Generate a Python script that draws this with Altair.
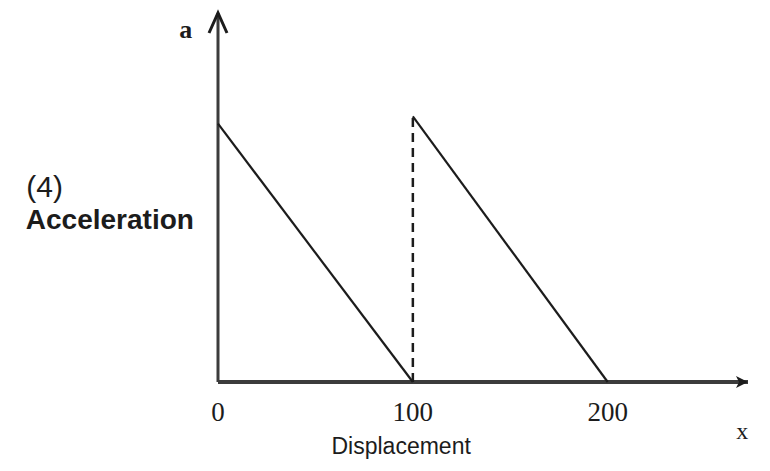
import altair as alt
import pandas as pd

# --- data ---
segment_ids = ["first", "first", "second", "second"]
seg_x = [0, 100, 100, 200]
seg_a = [7.0, 0.0, 7.2, 0.0]

dash_x = [100]
dash_a0 = [0.0]
dash_a1 = [7.2]

x_max = 272          # end of x axis (arrow tip)
a_max = 10           # end of a axis (arrow tip)

tick_values = [0, 100, 200]
tick_labels = ["0", "100", "200"]

X = alt.Scale(domain=[0, x_max], nice=False, zero=False)
Y = alt.Scale(domain=[0, a_max], nice=False, zero=False)

seg_df = pd.DataFrame({"seg": segment_ids, "x": seg_x, "a": seg_a})
dash_df = pd.DataFrame({"x": dash_x, "a0": dash_a0, "a1": dash_a1})
ticks_df = pd.DataFrame({"x": tick_values, "label": tick_labels, "a": [0] * len(tick_values)})

INK = "#1c1c1c"
AX = "#3c3c3c"

# axes lines
xaxis = alt.Chart(pd.DataFrame({"x0": [0], "x1": [x_max], "a": [0]})).mark_rule(
    color=AX, strokeWidth=4).encode(
    x=alt.X("x0:Q", scale=X, axis=None), x2="x1:Q", y=alt.Y("a:Q", scale=Y, axis=None))
yaxis = alt.Chart(pd.DataFrame({"x": [0], "a0": [0], "a1": [a_max]})).mark_rule(
    color=AX, strokeWidth=3).encode(
    x=alt.X("x:Q", scale=X, axis=None), y=alt.Y("a0:Q", scale=Y, axis=None), y2="a1:Q")

# arrow heads
y_arrow = alt.Chart(pd.DataFrame({"x": [0], "a": [a_max]})).mark_point(
    shape="M-0.45,1L0,0L0.45,1", size=1600, filled=False, stroke=INK, strokeWidth=3,
    opacity=1).encode(x=alt.X("x:Q", scale=X, axis=None), y=alt.Y("a:Q", scale=Y, axis=None))
x_arrow = alt.Chart(pd.DataFrame({"x": [x_max], "a": [0]})).mark_point(
    shape="M0,0L-1.2,-0.6L-0.9,0L-1.2,0.6Z", size=400, filled=True, color=INK,
    opacity=1).encode(x=alt.X("x:Q", scale=X, axis=None), y=alt.Y("a:Q", scale=Y, axis=None))

# graph lines
lines = alt.Chart(seg_df).mark_line(color=INK, strokeWidth=2.2).encode(
    x=alt.X("x:Q", scale=X, axis=None), y=alt.Y("a:Q", scale=Y, axis=None), detail="seg:N")
dashed = alt.Chart(dash_df).mark_rule(color=INK, strokeWidth=2.5, strokeDash=[9, 6]).encode(
    x=alt.X("x:Q", scale=X, axis=None), y=alt.Y("a0:Q", scale=Y, axis=None), y2="a1:Q")

# tick labels
ticks = alt.Chart(ticks_df).mark_text(
    font="Liberation Serif", fontSize=27, color=INK, baseline="middle", dy=31).encode(
    x=alt.X("x:Q", scale=X, axis=None), y=alt.Y("a:Q", scale=Y, axis=None), text="label:N")

def label(txt, x, a, **kw):
    return alt.Chart(pd.DataFrame({"x": [x], "a": [a], "t": [txt]})).mark_text(
        color=INK, baseline="middle", **kw).encode(
        x=alt.X("x:Q", scale=X, axis=None), y=alt.Y("a:Q", scale=Y, axis=None), text="t:N")

a_lab = label("a", -16.5, 9.55, font="Liberation Serif", fontSize=26, fontWeight="bold")
x_lab = label("x", x_max - 3, -1.35, font="Liberation Serif", fontSize=24)
disp = label("Displacement", 94, -1.76, font="Liberation Sans", fontSize=23)
four = label("(4)", -89, 5.26, font="Liberation Sans", fontSize=30)
acc = label("Acceleration", -55.5, 4.36, font="Liberation Sans", fontSize=28, fontWeight="bold")

chart = alt.layer(
    xaxis, yaxis, lines, dashed, y_arrow, x_arrow, ticks, a_lab, x_lab, disp, four, acc
).properties(
    width=530, height=369,
    autosize=alt.AutoSizeParams(type="none"),
    padding={"left": 210, "top": 5, "right": 10, "bottom": 81},
    background="white",
).configure_view(stroke=None)

chart.save("out.html", embed_options={"renderer": "svg", "actions": False})
